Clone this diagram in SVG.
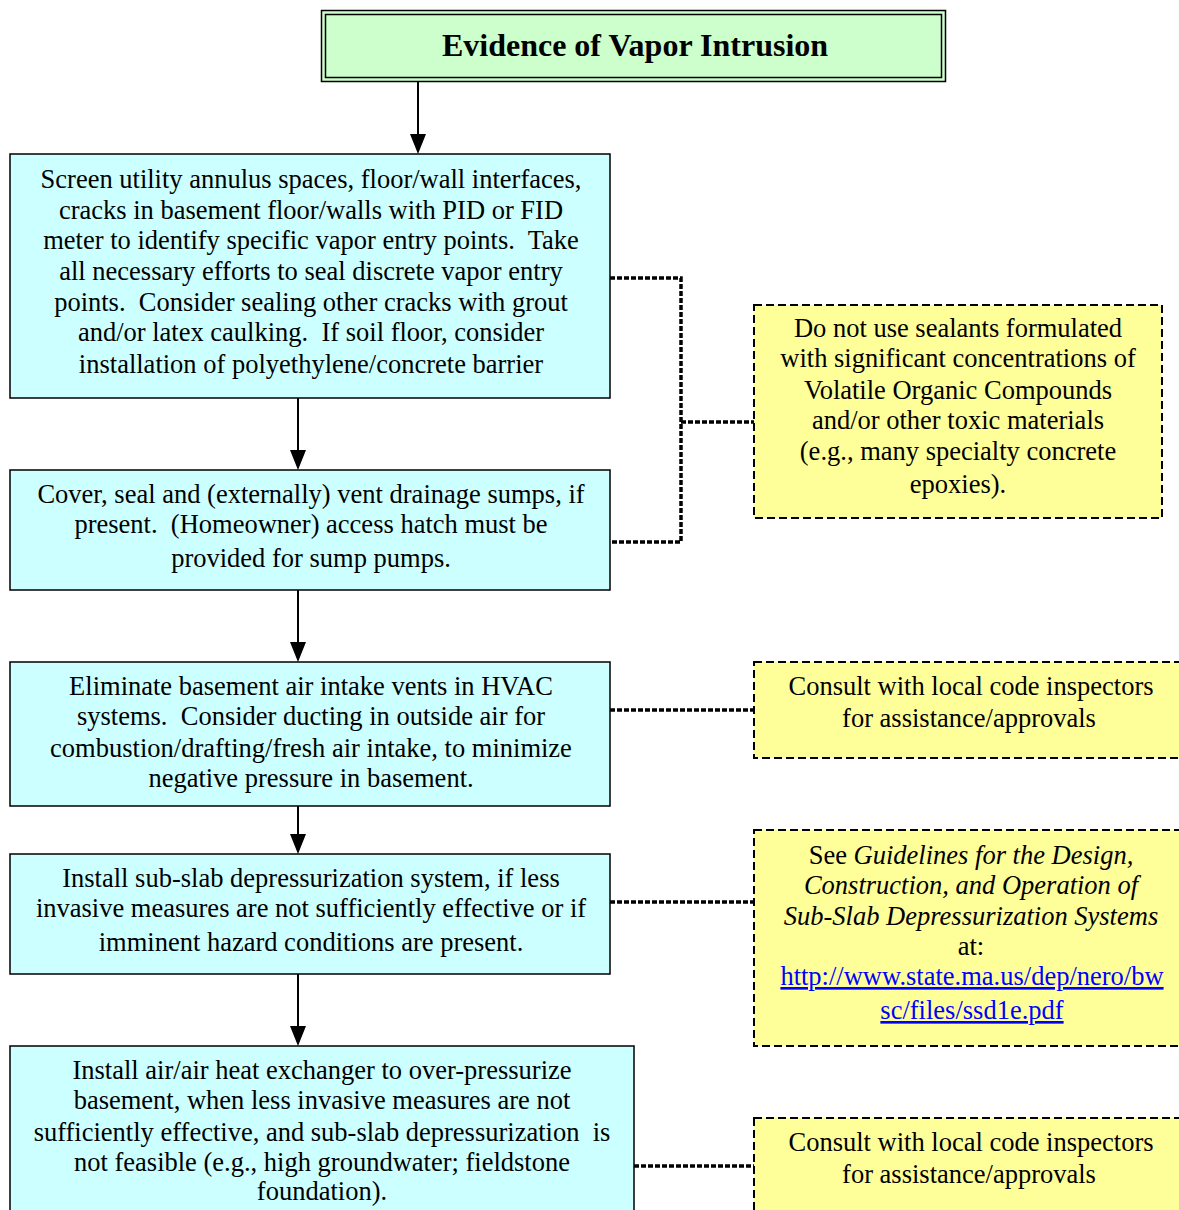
<svg xmlns="http://www.w3.org/2000/svg" width="1179" height="1210" viewBox="0 0 1179 1210">
<style>
text{font-family:"Liberation Serif","Times New Roman",serif;font-size:26.5px;fill:#000;text-anchor:middle;white-space:pre}
.step{fill:#CCFFFF;stroke:#000;stroke-width:1.5}
.note{fill:#FFFF99;stroke:#000;stroke-width:2;stroke-dasharray:8 4}
.flow{stroke:#000;stroke-width:2;fill:none}
.dot{stroke:#000;stroke-width:3.5;fill:none;stroke-dasharray:5 2}
.link{fill:#0000FF;text-decoration:underline}
</style>
<rect width="1179" height="1210" fill="#fff"/>
<g id="connectors">
<line class="flow" x1="418" y1="82" x2="418" y2="136"/>
<line class="flow" x1="298" y1="398" x2="298" y2="452"/>
<line class="flow" x1="298" y1="590" x2="298" y2="644"/>
<line class="flow" x1="298" y1="806" x2="298" y2="836"/>
<line class="flow" x1="298" y1="974" x2="298" y2="1028"/>
<path d="M410,134 L426,134 L418,154 Z M290,450 L306,450 L298,470 Z M290,642 L306,642 L298,662 Z M290,834 L306,834 L298,854 Z M290,1026 L306,1026 L298,1046 Z" fill="#000"/>
<path class="dot" d="M610,278 H681 V542 H610 M681,422 H754"/>
<path class="dot" d="M610,710 H754"/>
<path class="dot" d="M610,902 H754"/>
<path class="dot" d="M634,1166 H754"/>
</g>
<g id="title">
<rect x="321.5" y="10.5" width="624" height="71" fill="#CCFFCC" stroke="#000" stroke-width="1.5"/>
<rect x="325.5" y="14.5" width="616" height="63" fill="none" stroke="#000" stroke-width="1.5"/>
<text x="635" y="56" style="font-size:32px;font-weight:bold">Evidence of Vapor Intrusion</text>
</g>
<g id="step1">
<rect class="step" x="10" y="154" width="600" height="244"/>
<text x="311" y="188">Screen utility annulus spaces, floor/wall interfaces,</text>
<text x="311" y="219">cracks in basement floor/walls with PID or FID</text>
<text x="311" y="249">meter to identify specific vapor entry points.  Take</text>
<text x="311" y="280">all necessary efforts to seal discrete vapor entry</text>
<text x="311" y="311">points.  Consider sealing other cracks with grout</text>
<text x="311" y="341">and/or latex caulking.  If soil floor, consider</text>
<text x="311" y="373">installation of polyethylene/concrete barrier</text>
</g>
<g id="step2">
<rect class="step" x="10" y="470" width="600" height="120"/>
<text x="311" y="503">Cover, seal and (externally) vent drainage sumps, if</text>
<text x="311" y="533">present.  (Homeowner) access hatch must be</text>
<text x="311" y="567">provided for sump pumps.</text>
</g>
<g id="step3">
<rect class="step" x="10" y="662" width="600" height="144"/>
<text x="311" y="695">Eliminate basement air intake vents in HVAC</text>
<text x="311" y="725">systems.  Consider ducting in outside air for</text>
<text x="311" y="757">combustion/drafting/fresh air intake, to minimize</text>
<text x="311" y="787">negative pressure in basement.</text>
</g>
<g id="step4">
<rect class="step" x="10" y="854" width="600" height="120"/>
<text x="311" y="887">Install sub-slab depressurization system, if less</text>
<text x="311" y="917">invasive measures are not sufficiently effective or if</text>
<text x="311" y="951">imminent hazard conditions are present.</text>
</g>
<g id="step5">
<rect class="step" x="10" y="1046" width="624" height="180"/>
<text x="322" y="1079">Install air/air heat exchanger to over-pressurize</text>
<text x="322" y="1109">basement, when less invasive measures are not</text>
<text x="322" y="1141">sufficiently effective, and sub-slab depressurization  is</text>
<text x="322" y="1171">not feasible (e.g., high groundwater; fieldstone</text>
<text x="322" y="1200">foundation).</text>
</g>
<g id="note1">
<rect class="note" x="754" y="305" width="408" height="213"/>
<text x="958" y="337">Do not use sealants formulated</text>
<text x="958" y="367">with significant concentrations of</text>
<text x="958" y="399">Volatile Organic Compounds</text>
<text x="958" y="429">and/or other toxic materials</text>
<text x="958" y="460">(e.g., many specialty concrete</text>
<text x="958" y="493">epoxies).</text>
</g>
<g id="note2">
<rect class="note" x="754" y="662" width="440" height="96"/>
<text x="971" y="695">Consult with local code inspectors</text>
<text x="969" y="727">for assistance/approvals</text>
</g>
<g id="note3">
<rect class="note" x="754" y="830" width="440" height="216"/>
<text x="971" y="864">See <tspan font-style="italic">Guidelines for the Design,</tspan></text>
<text x="971" y="894" font-style="italic">Construction, and Operation of</text>
<text x="971" y="925" font-style="italic">Sub-Slab Depressurization Systems</text>
<text x="971" y="955">at:</text>
<text x="972" y="985" class="link">http://www.state.ma.us/dep/nero/bw</text>
<text x="972" y="1019" class="link">sc/files/ssd1e.pdf</text>
</g>
<g id="note4">
<rect class="note" x="754" y="1118" width="440" height="110"/>
<text x="971" y="1151">Consult with local code inspectors</text>
<text x="969" y="1183">for assistance/approvals</text>
</g>
</svg>
